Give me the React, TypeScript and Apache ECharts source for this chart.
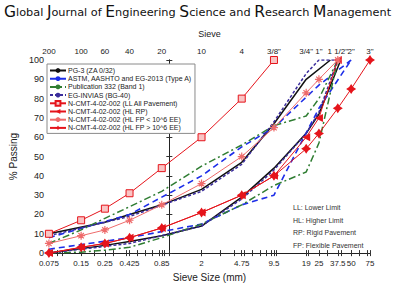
import React, { useEffect, useRef } from "react";
import * as echarts from "echarts";

// Sieve sizes (mm) and their sieve designations
const sieveSizes = [0.075, 0.15, 0.25, 0.425, 0.85, 2, 4.75, 9.5, 19, 25, 37.5, 50, 75];
const bottomLabels = ["0.075", "0.15", "0.25", "0.425", "0.85", "2", "4.75", "9.5", "19", "25", "37.5", "50", "75"];
const sieveNames = ["200", "100", "60", "40", "20", "10", "4", "3/8\"", "3/4\"", "1\"", "1 1/2\"", "2\"", "3\""];

// PG-3 (ZA 0/32)
const pg3UpperSizes = [0.075, 0.25, 0.425, 0.85, 2, 4.75, 9.5, 19, 32];
const pg3Upper = [10, 16, 20, 25, 33, 47, 67, 90, 100];
const pg3LowerSizes = [0.075, 0.25, 0.425, 0.85, 2, 4.75, 9.5, 19, 25, 40];
const pg3Lower = [0, 4, 6, 9, 14, 29, 44, 62, 72, 100];

// ASTM, AASHTO and EG-2013 (Type A)
const astmSizes = [0.075, 0.425, 2, 4.75, 9.5, 25, 50];
const astmUpper = [8, 20, 40, 55, 65, 87, 100];
const astmLower = [2, 8, 15, 25, 30, 75, 100];

// Publication 332 (Band 1)
const pubSizes = [0.075, 0.15, 0.25, 0.425, 0.85, 2, 4.75, 9.5, 19, 25, 37.5];
const pubUpper = [5, 12, 18, 24, 32, 45, 56, 66, 71, 80, 100];
const pubLower = [0, 0.5, 1.5, 3, 8, 15, 25, 35, 42, 57, 100];

// EG-INVIAS (BG-40)
const invSizes = [0.075, 0.425, 2, 4.75, 9.5, 19, 25, 37.5];
const invUpper = [9, 19, 32, 46, 68, 93, 100, 100];
const invLower = [0, 5, 14, 28, 43, 62, 73, 100];

// N-CMT-4-02-002
const llSizes = [0.075, 0.15, 0.25, 0.425, 0.85, 2, 4.75, 9.5];
const llAll = [10, 17, 23, 31, 44, 60, 80, 100];
const hlRpSizes = [0.075, 0.15, 0.25, 0.425, 0.85, 2, 4.75, 9.5, 19, 25, 37.5];
const hlRp = [0, 3, 5, 8, 13, 21, 30, 40, 60, 70, 100];
const hlFpLowSizes = [0.075, 0.15, 0.25, 0.425, 0.85, 2, 4.75, 9.5, 19, 25, 37.5];
const hlFpLow = [5, 9, 12, 17, 25, 36, 50, 65, 83, 90, 100];
const hlFpHighSizes = [0.075, 0.15, 0.25, 0.425, 0.85, 2, 4.75, 9.5, 19, 25, 37.5, 50, 75];
const hlFpHigh = [0, 3, 5, 8, 13, 21, 30, 40, 54, 62, 75, 85, 100];

const yTicks = [0, 10, 20, 30, 40, 50, 60, 70, 80, 90, 100];

const legendNames = [
  "PG-3 (ZA 0/32)",
  "ASTM, AASHTO and EG-2013 (Type A)",
  "Publication 332 (Band 1)",
  "EG-INVIAS (BG-40)",
  "N-CMT-4-02-002 (LL All Pavement)",
  "N-CMT-4-02-002 (HL RP)",
  "N-CMT-4-02-002 (HL FP < 10^6 EE)",
  "N-CMT-4-02-002 (HL FP > 10^6 EE)",
];

const notes = ["LL: Lower Limit", "HL: Higher Limit", "RP: Rigid Pavement", "FP: Flexible Pavement"];

const FONT = "Liberation Sans, Arial, sans-serif";
const NARROW = "Liberation Sans Narrow, Liberation Sans, Arial, sans-serif";
const lg = (v: number) => Math.log10(v);
const pts = (s: number[], v: number[]) => s.map((x, i) => [lg(x), v[i]]);

const minorTicks: number[] = [];
for (let n = -2; n <= 1; n++) {
  for (let k = 1; k <= 9; k++) {
    const v = k * Math.pow(10, n);
    if (v >= 0.075 && v <= 75) minorTicks.push(lg(v));
  }
}
const tickVals = minorTicks.concat(sieveSizes.map(lg));

const findIdx = (v: number) => sieveSizes.findIndex((s) => Math.abs(lg(s) - v) < 1e-6);

function lineSeries(name: string, data: number[][], color: string, width: number, type: any, extra: any = {}) {
  return {
    name,
    type: "line",
    data,
    symbol: "none",
    lineStyle: { color, width, type },
    itemStyle: { color },
    ...extra,
  };
}

const RED = "#e5141b";
const PINK = "#ee6b6b";
const BLACK = "#111111";
const BLUE = "#1d2ee8";
const GREEN = "#2f7d32";
const NAVY = "#3b2d9c";

const starPath = "path://M5,0L5,10M0,5L10,5M1.6,1.6L8.4,8.4M8.4,1.6L1.6,8.4";
const fatStar = "path://M5,0L7,3L10,5L7,7L5,10L3,7L0,5L3,3Z";

export default function App() {
  const ref = useRef<HTMLDivElement>(null);
  useEffect(() => {
    const chart = echarts.init(ref.current as HTMLDivElement, null, { renderer: "svg" });
    const titleParts = [
      ["G", "lobal "],
      ["J", "ournal of "],
      ["E", "ngineering "],
      ["S", "cience and "],
      ["R", "esearch "],
      ["M", "anagement"],
    ];
    const titleText = titleParts.map((p) => `{b|${p[0]}}{s|${p[1]}}`).join("");
    const option: any = {
      animation: false,
      backgroundColor: "#ffffff",
      textStyle: { fontFamily: FONT },
      grid: { left: 45, right: 26, top: 60, bottom: 32, containLabel: false },
      legend: {
        data: legendNames,
        orient: "vertical",
        left: 47,
        top: 64,
        padding: [3, 3, 2, 2],
        itemWidth: 16,
        itemHeight: 6,
        itemGap: 1.2,
        borderColor: "#8a8a8a",
        borderWidth: 1,
        backgroundColor: "#ffffff",
        textStyle: { fontSize: 7, lineHeight: 6, color: "#222", fontFamily: NARROW, padding: [0, 0, 0, -3] },
      },
      xAxis: [
        {
          type: "value",
          position: "bottom",
          min: lg(0.075),
          max: lg(75),
          name: "Sieve Size (mm)",
          nameLocation: "middle",
          nameGap: 17,
          nameTextStyle: { fontSize: 10, color: "#222", fontFamily: FONT },
          axisLine: { lineStyle: { color: "#222", width: 1 } },
          axisTick: { customValues: tickVals, inside: true, length: 3, lineStyle: { color: "#333" } },
          axisLabel: {
            customValues: sieveSizes.map(lg),
            formatter: (v: number) => { const i = findIdx(v); return i >= 0 ? bottomLabels[i] : ""; },
            fontSize: 8,
            color: "#222",
            margin: 6,
            fontFamily: FONT,
          },
          splitLine: { show: false },
        },
        {
          type: "value",
          position: "top",
          min: lg(0.075),
          max: lg(75),
          name: "Sieve",
          nameLocation: "middle",
          nameGap: 22,
          nameTextStyle: { fontSize: 9, color: "#222", fontFamily: FONT },
          axisLine: { lineStyle: { color: "#222", width: 1 } },
          axisTick: { customValues: tickVals, inside: true, length: 3, lineStyle: { color: "#333" } },
          axisLabel: {
            customValues: sieveSizes.map(lg),
            formatter: (v: number) => { const i = findIdx(v); return i >= 0 ? sieveNames[i] : ""; },
            fontSize: 8,
            color: "#222",
            margin: 5,
            fontFamily: FONT,
          },
          splitLine: { show: false },
        },
      ],
      yAxis: [
        {
          type: "value",
          min: 0,
          max: 100,
          interval: 10,
          name: "% Passing",
          nameLocation: "middle",
          nameGap: 24,
          nameTextStyle: { fontSize: 10, color: "#222", fontFamily: FONT },
          axisLine: { show: true, lineStyle: { color: "#222", width: 1 } },
          axisTick: { show: true, length: 3, lineStyle: { color: "#333" } },
          axisLabel: { customValues: yTicks, fontSize: 9, color: "#222", margin: 5, fontFamily: FONT },
          splitLine: { show: false },
        },
        {
          type: "value",
          position: "right",
          min: 0,
          max: 100,
          interval: 10,
          axisLine: { show: true, lineStyle: { color: "#222", width: 1 } },
          axisTick: { show: true, length: 3, lineStyle: { color: "#333" } },
          axisLabel: { show: false },
          splitLine: { show: false },
        },
      ],
      series: [
        lineSeries(legendNames[0], pts(pg3UpperSizes, pg3Upper), BLACK, 1.5, "solid"),
        lineSeries(legendNames[0], pts(pg3LowerSizes, pg3Lower), BLACK, 1.5, "solid"),
        lineSeries(legendNames[1], pts(astmSizes, astmUpper), BLUE, 1.6, [6, 4]),
        lineSeries(legendNames[1], pts(astmSizes, astmLower), BLUE, 1.6, [6, 4]),
        lineSeries(legendNames[2], pts(pubSizes, pubUpper), GREEN, 1.5, [7, 3, 2, 3]),
        lineSeries(legendNames[2], pts(pubSizes, pubLower), GREEN, 1.5, [7, 3, 2, 3]),
        lineSeries(legendNames[3], pts(invSizes, invUpper), NAVY, 1.5, [3, 2]),
        lineSeries(legendNames[3], pts(invSizes, invLower), NAVY, 1.5, [3, 2]),
        lineSeries(legendNames[4], pts(llSizes, llAll), RED, 1, "solid", {
          symbol: "rect",
          symbolSize: 7,
          itemStyle: { color: "#f9c4c4", borderColor: RED, borderWidth: 1 },
        }),
        lineSeries(legendNames[5], pts(hlRpSizes, hlRp), RED, 1, "solid", {
          symbol: "triangle",
          symbolRotate: 90,
          symbolSize: 8,
          itemStyle: { color: RED },
        }),
        lineSeries(legendNames[6], pts(hlFpLowSizes, hlFpLow), PINK, 1, "solid", {
          symbol: starPath,
          symbolSize: 8,
          itemStyle: { color: "rgba(255,255,255,0)", borderColor: PINK, borderWidth: 1.2 },
        }),
        lineSeries(legendNames[7], pts(hlFpHighSizes, hlFpHigh), RED, 1, "solid", {
          symbol: fatStar,
          symbolSize: 10,
          itemStyle: { color: RED },
        }),
      ],
      graphic: [
        {
          type: "text",
          left: 4,
          top: 4,
          style: {
            text: titleText,
            fontFamily: "DejaVu Sans, sans-serif",
            rich: {
              b: { fontSize: 15.5, fill: "#111", fontFamily: "DejaVu Sans, sans-serif" },
              s: { fontSize: 11.3, fill: "#111", fontFamily: "DejaVu Sans, sans-serif" },
            },
          },
        },
        ...notes.map((t, i) => ({
          type: "text",
          left: 293,
          top: 204 + i * 12.5,
          style: { text: t, fontSize: 7, fill: "#333", fontFamily: FONT },
        })),
      ],
    };
    chart.setOption(option);
    return () => chart.dispose();
  }, []);
  return <div ref={ref} style={{ position: "fixed", left: 0, top: 0, width: 396, height: 287 }} />;
}
